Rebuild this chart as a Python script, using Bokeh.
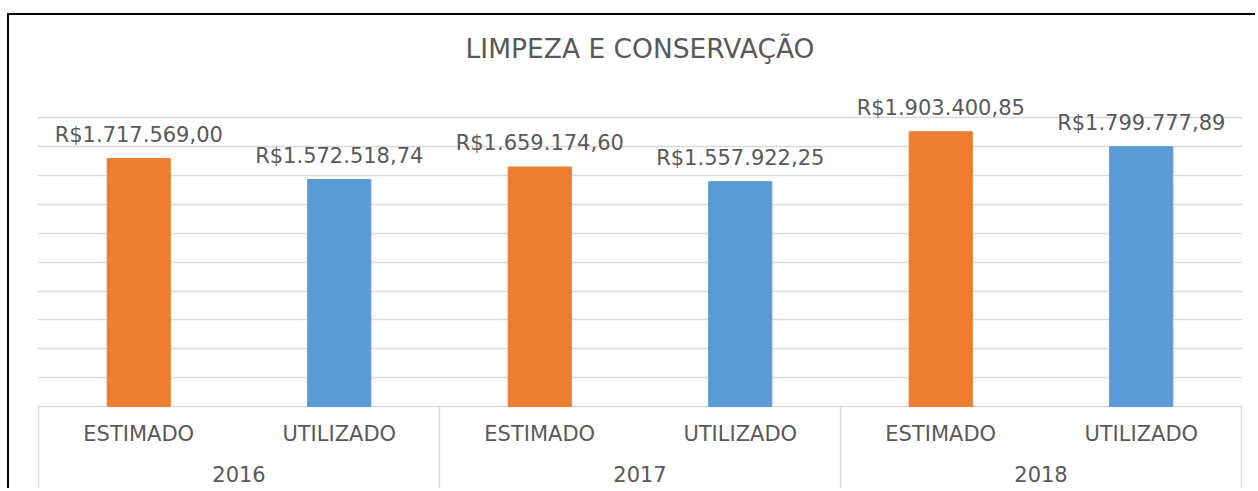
from bokeh.plotting import figure
from bokeh.models import FactorRange, Range1d, ColumnDataSource, Grid, FixedTicker
from bokeh.core.properties import value
from bokeh.embed import file_html
from bokeh.resources import INLINE

# ---- data ----
title_text = "LIMPEZA E CONSERVAÇÃO"
years = ["2016", "2017", "2018"]
kinds = ["ESTIMADO", "UTILIZADO"]
estimado = [1717569.00, 1659174.60, 1903400.85]
utilizado = [1572518.74, 1557922.25, 1799777.89]
grid_ticks = [0, 200000, 400000, 600000, 800000, 1000000,
              1200000, 1400000, 1600000, 1800000, 2000000]


def brl(v):
    s = f"{v:,.2f}"
    s = s.replace(",", "X").replace(".", ",").replace("X", ".")
    return "R$" + s


FONT = "DejaVu Sans"
TXT = "#595959"
GRID = "#d9d9d9"
ORANGE = "#ED7D31"
BLUE = "#5B9BD5"

W, H = 1248, 475
# pixel layout of the value axis inside the canvas
base_px = 391.0      # canvas y of value 0
top_px = 102.3       # canvas y of value 2,000,000
ymax_tick = grid_ticks[-1]
ppu = (base_px - top_px) / ymax_tick
y_start = -(H - base_px) / ppu
y_end = ymax_tick + top_px / ppu

factors = [(y, k) for y in years for k in kinds]
vals = []
colors = []
for e, u in zip(estimado, utilizado):
    vals += [e, u]
    colors += [ORANGE, BLUE]

src = ColumnDataSource(dict(x=factors, top=vals, color=colors,
                            label=[brl(v) for v in vals],
                            kind=[k for _ in years for k in kinds],
                            zero=[0] * len(vals)))

p = figure(width=W, height=H,
           x_range=FactorRange(*factors, group_padding=0, factor_padding=0,
                               subgroup_padding=0, range_padding=0.005,
                               range_padding_units="absolute"),
           y_range=Range1d(y_start, y_end),
           x_axis_location=None, y_axis_location=None,
           toolbar_location=None, output_backend="svg",
           min_border_left=28, min_border_right=15,
           min_border_top=0, min_border_bottom=0)
for g in p.grid:
    g.visible = False
p.outline_line_color = None
p.background_fill_color = "white"
p.border_fill_color = "white"
p.margin = (13, 0, 0, 7)
p.styles = {"border-left": "2px solid black", "border-top": "2px solid black"}

p.add_layout(Grid(dimension=1, ticker=FixedTicker(ticks=grid_ticks),
                  grid_line_color=GRID, grid_line_width=1.5))

# group separators below the baseline
bounds = [(years[0], kinds[0], -0.5), (years[1], kinds[0], -0.5),
          (years[2], kinds[0], -0.5), (years[2], kinds[-1], 0.5)]
p.segment(x0=bounds, y0=[0] * 4, x1=bounds, y1=[y_start] * 4,
          line_color=GRID, line_width=1.5)

p.vbar(x="x", top="top", width=0.315, color="color", source=src)

# data labels
p.text(x="x", y="top", text="label", source=src, text_align="center",
       text_baseline="alphabetic", y_offset=-24,
       text_font=value(FONT), text_font_size="21px", text_color=TXT)

# category labels
p.text(x="x", y="zero", text="kind", source=src, text_align="center",
       text_baseline="alphabetic", y_offset=27,
       text_font=value(FONT), text_font_size="21px", text_color=TXT)
p.text(x=years, y=[0] * 3, text=years, text_align="center",
       text_baseline="alphabetic", y_offset=67,
       text_font=value(FONT), text_font_size="21px", text_color=TXT)

# title
p.text(x=[years[1]], y=[ymax_tick], text=[title_text], text_align="center",
       text_baseline="alphabetic", y_offset=-69,
       text_font=value(FONT), text_font_size="26.5px", text_color=TXT)

open("out.html", "w").write(file_html(p, INLINE))
